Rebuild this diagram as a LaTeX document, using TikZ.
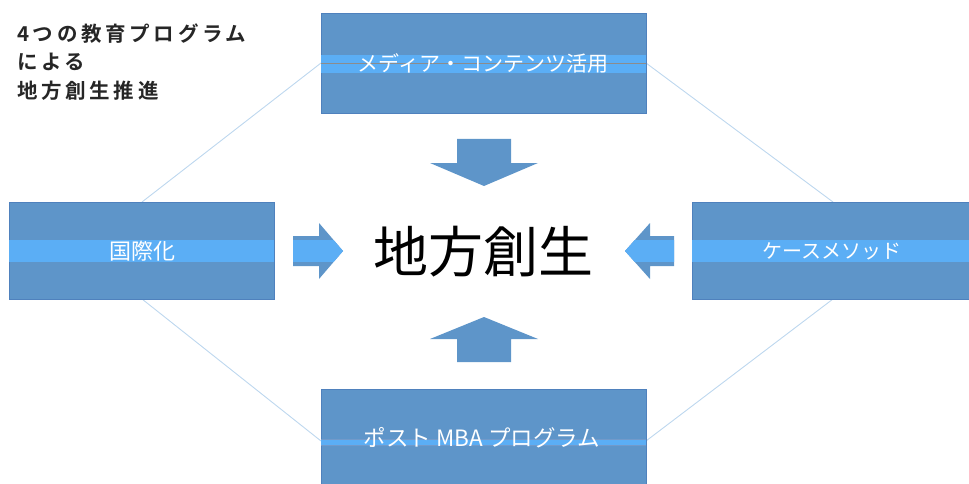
\documentclass[tikz,border=0pt]{standalone}
\usepackage{fontspec}
\setmainfont{Noto Sans CJK JP}
\newfontfamily\jpbold[LetterSpace=18]{Noto Sans CJK JP Bold}
\definecolor{boxblue}{HTML}{5E95C9}
\definecolor{bandblue}{HTML}{5BAEF5}
\definecolor{edgeblue}{HTML}{4F81BD}
\definecolor{linkblue}{HTML}{BDD7EE}
\tikzset{
  progbox/.style={draw=edgeblue, line width=0.6pt, fill=boxblue, inner sep=0pt, minimum width=#1},
  boxtext/.style={text=white, font=\fontsize{21}{23}\selectfont, inner sep=0pt},
  link/.style={draw=linkblue, line width=0.9pt},
  titletext/.style={anchor=west, inner sep=0pt, text=black!85, font=\jpbold\fontsize{20.5}{23}\selectfont}
}
\begin{document}
\begin{tikzpicture}[x=1pt,y=-1pt]
\useasboundingbox (0,0) rectangle (969,484);
% connectors (behind boxes)
\coordinate (mW) at (321,63);
\coordinate (mE) at (646,63);
\coordinate (iN) at (142,202);
\coordinate (iS) at (142,299);
\coordinate (cN) at (833,202);
\coordinate (cS) at (833,299);
\coordinate (bW) at (321,441);
\coordinate (bE) at (646,441);
\draw[link] (mW) -- (iN);
\draw[link] (mE) -- (cN);
\draw[link] (iS) -- (bW);
\draw[link] (cS) -- (bE);
% boxes
\node[progbox=325pt, minimum height=100pt] (media) at (483.5,63) {};
\node[progbox=265pt, minimum height=97pt] (intl) at (141.5,250.5) {};
\node[progbox=282pt, minimum height=97pt] (case) at (833,250.5) {};
\node[progbox=325pt, minimum height=104pt] (mba) at (483.5,441) {};
% bands
\fill[bandblue] (321,55) rectangle (646,73);
\fill[bandblue] (9,240) rectangle (274,262);
\fill[bandblue] (692,240) rectangle (969,262);
\fill[bandblue] (321,439.5) rectangle (646,445);
\draw[black!45, line width=0.4pt] (321,63.5) -- (646,63.5);
\draw[edgeblue!80, line width=0.4pt] (321,439.5) -- (646,439.5);
\draw[edgeblue!80, line width=0.4pt] (321,445) -- (646,445);
% box texts
\node[boxtext] (mediaT) at (483,63) {メディア・コンテンツ活用};
\node[boxtext, font=\fontsize{22}{24}\selectfont] (intlT) at (142,251) {国際化};
\node[boxtext, font=\fontsize{20}{22}\selectfont] (caseT) at (832,251) {ケースメソッド};
\node[boxtext, font=\fontsize{22.5}{24}\selectfont] (mbaT) at (482,438) {ポスト MBA プログラム};
% arrows
\fill[boxblue] (457,139) -- (511,139) -- (511,163) -- (538,163) -- (484,186) -- (430,163) -- (457,163) -- cycle;
\fill[boxblue] (457,362) -- (511,362) -- (511,339) -- (538,339) -- (484,317) -- (430,339) -- (457,339) -- cycle;
\begin{scope}
\clip (293,236) -- (319,236) -- (319,223) -- (343,251) -- (319,279) -- (319,266) -- (293,266) -- cycle;
\fill[boxblue] (290,220) rectangle (350,285);
\fill[bandblue] (290,240) rectangle (350,262);
\end{scope}
\begin{scope}
\clip (674,236) -- (650,236) -- (650,223) -- (625,251) -- (650,279) -- (650,266) -- (674,266) -- cycle;
\fill[boxblue] (620,220) rectangle (680,285);
\fill[bandblue] (620,240) rectangle (680,262);
\end{scope}
% center
\node[inner sep=0pt, font=\fontsize{55}{60}\selectfont] (center) at (483,252) {地方創生};
% title
\node[titletext] (t1) at (17,34) {4つの教育プログラム};
\node[titletext] (t2) at (17,62) {による};
\node[titletext] (t3) at (17,91) {地方創生推進};
\end{tikzpicture}
\end{document}
